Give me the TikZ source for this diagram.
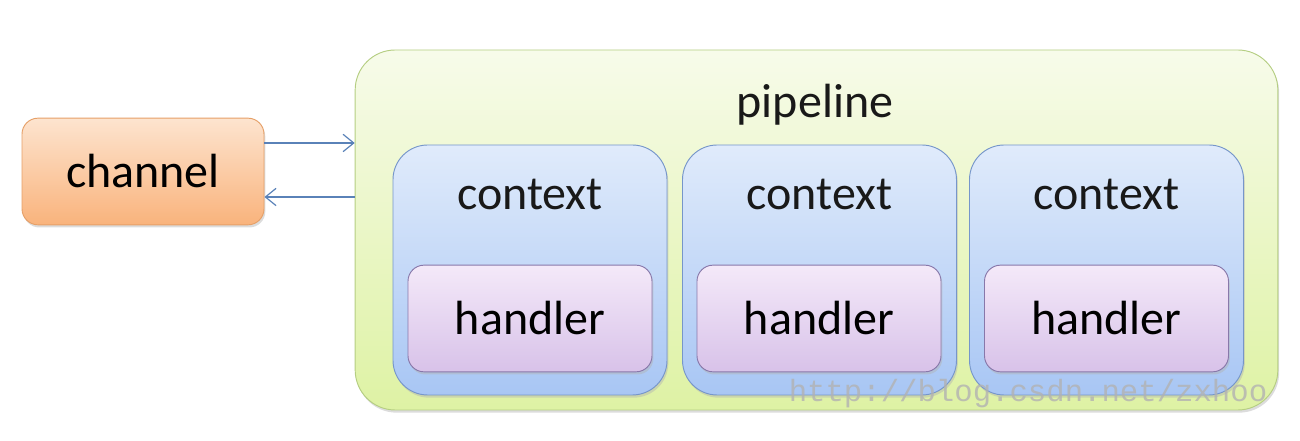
\documentclass[tikz,border=0pt]{standalone}
\usepackage{fontspec}
\setmainfont{Carlito}
\newfontfamily\markfont{Liberation Mono}
\usetikzlibrary{arrows.meta, positioning, shadows}

\definecolor{chanTop}{HTML}{FDE4CF}
\definecolor{chanBot}{HTML}{F9B37C}
\definecolor{chanLine}{HTML}{E6A068}
\definecolor{pipeTop}{HTML}{F7FBEA}
\definecolor{pipeBot}{HTML}{DEF2A4}
\definecolor{pipeLine}{HTML}{B5CE82}
\definecolor{ctxTop}{HTML}{E0EBFB}
\definecolor{ctxBot}{HTML}{A8C6F4}
\definecolor{ctxLine}{HTML}{7696CA}
\definecolor{hdlTop}{HTML}{F4E9F9}
\definecolor{hdlBot}{HTML}{D8C2E9}
\definecolor{hdlLine}{HTML}{8878AA}
\definecolor{arrowBlue}{HTML}{5A82B8}

\begin{document}
\begin{tikzpicture}[
  x=0.75pt, y=0.75pt, % 1 单位 = 参考图 1 像素
  softshadow/.style={drop shadow={shadow xshift=1pt, shadow yshift=-2pt,
                     fill=black!30, opacity=0.45}},
  chanbox/.style={draw=chanLine, line width=0.7pt, rounded corners=12pt,
                  top color=chanTop, bottom color=chanBot, softshadow,
                  minimum width=181.5pt, minimum height=80pt,
                  font=\fontsize{36}{40}\selectfont},
  pipebox/.style={draw=pipeLine, line width=0.7pt, rounded corners=30pt,
                  top color=pipeTop, bottom color=pipeBot, softshadow,
                  minimum width=692pt, minimum height=270pt},
  ctxbox/.style={draw=ctxLine, line width=0.7pt, rounded corners=26pt,
                 top color=ctxTop, bottom color=ctxBot, softshadow,
                 minimum width=205.5pt, minimum height=187.5pt},
  hdlbox/.style={draw=hdlLine, line width=0.7pt, rounded corners=12pt,
                 top color=hdlTop, bottom color=hdlBot, softshadow,
                 minimum width=183pt, minimum height=80pt,
                 font=\fontsize{36}{40}\selectfont},
  tlabel/.style={font=\fontsize{36}{40}\selectfont, text=black!90, inner sep=0pt},
  arr/.style={draw=arrowBlue, line width=0.9pt,
              -{Straight Barb[length=8pt, width=13pt]}}
]
  \useasboundingbox (0,0) rectangle (1300,441);

  % 外层 pipeline 与 channel
  \node[pipebox] (pipe) at (816.5,211) {};
  \node[tlabel] (pipelabel) at (815,336) {pipeline};
  \node[chanbox] (chan) at (143,269.5) {channel};

  % 三组 context/handler
  \foreach \x/\hx [count=\i] in {530/530, 819.5/819, 1106.5/1106.5} {
    \node[ctxbox] (ctx\i) at (\x,171) {};
    \node[tlabel, below=26pt of ctx\i.north] (ctxlabel\i) {context};
    \node[hdlbox] (hdl\i) at (\hx,122.5) {handler};
  }

  % channel <-> pipeline
  \draw[arr] (chan.east |- 0,298) -- (pipe.west |- 0,298);
  \draw[arr] (pipe.west |- 0,244) -- (chan.east |- 0,244);

  % 水印
  \node[font=\markfont\fontsize{23}{26}\selectfont, text=black!30, opacity=0.8,
        inner sep=0pt] (mark) at (1028,47) {http://blog.csdn.net/zxhoo};
\end{tikzpicture}
\end{document}
